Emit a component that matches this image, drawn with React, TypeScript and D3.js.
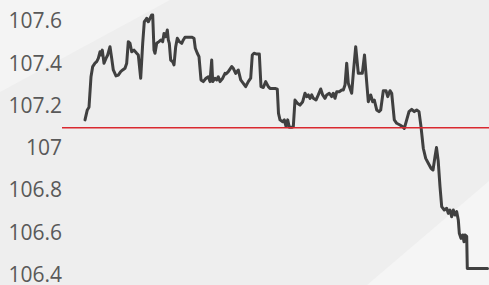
import React from "react";
import * as d3 from "d3";

// time index (minutes from session start) and price
const times: number[] = [
  0, 2.3, 4, 6, 7.7, 10, 11.7, 13.3, 15, 16, 17.3, 19, 21, 22.7, 25, 26.7, 28.3, 31, 33.3, 35.7,
  37.7, 40, 41.7, 43.3, 45, 46.7, 49, 51.7, 53.3, 55.7, 57.7, 59.3, 60.7, 61.7, 63.3, 65, 66.7, 67.7, 69, 70,
  71.7, 74, 76, 77.7, 79, 80.7, 82.3, 83.3, 84.3, 85.7, 87.7, 89, 90.7, 92.3, 94.3, 96.7, 98.3, 100, 106.7, 109,
  110.3, 112.3, 114, 116, 118.3, 121, 123.3, 125, 126.7, 127.7, 130, 131.7, 133.3, 135, 137.7, 140, 141, 143.3, 146.7, 148.3,
  150.7, 153.3, 155.7, 158.3, 160.7, 163.3, 165.7, 167.3, 169, 171, 174.3, 176, 178.3, 180.7, 183.3, 185, 190, 192.3, 193.5, 195,
  197.7, 199.3, 201, 202.7, 204.3, 206.7, 208.3, 210, 212.3, 215, 217.7, 220, 221.7, 223.3, 225, 226.7, 228.3, 231, 233.3, 235.7,
  237.7, 240, 241.7, 244.3, 246.7, 248.3, 250, 251.7, 254.3, 256.7, 258.3, 260, 261.7, 263.3, 265, 266.7, 268.3, 270.7,
  273.3, 277.3, 279.5, 281.5, 283.3, 285.7, 287.7, 289.3, 291.7, 294, 295.7, 298.3, 301, 302.7, 305, 306.7, 309.3, 311.7, 315, 317.7,
  319.3, 321.7, 324, 326.7, 329.3, 331.7, 334, 336, 338.3, 340.7, 343.3, 346, 348, 350, 351.5, 353.2, 355, 356.7, 359.3, 361.7,
  363.3, 365, 366.7, 368.3, 370, 371.7, 373.3, 374.3, 376, 377.7, 379, 380, 381.7, 382.3, 402.5,
];

const prices: number[] = [
  107.131, 107.178, 107.191, 107.335, 107.383, 107.399, 107.406, 107.422, 107.453, 107.438, 107.461, 107.399, 107.422, 107.438, 107.477, 107.422, 107.367, 107.339, 107.343, 107.359,
  107.367, 107.375, 107.399, 107.501, 107.493, 107.453, 107.461, 107.446, 107.438, 107.328, 107.493, 107.595, 107.603, 107.611, 107.595, 107.611, 107.627, 107.627, 107.461, 107.446,
  107.493, 107.501, 107.509, 107.501, 107.540, 107.524, 107.556, 107.509, 107.493, 107.414, 107.406, 107.391, 107.477, 107.517, 107.501, 107.493, 107.509, 107.522, 107.522, 107.517,
  107.470, 107.446, 107.430, 107.320, 107.312, 107.328, 107.335, 107.312, 107.414, 107.312, 107.328, 107.320, 107.335, 107.312, 107.328, 107.351, 107.348, 107.359, 107.383, 107.375,
  107.351, 107.367, 107.320, 107.304, 107.288, 107.312, 107.328, 107.438, 107.446, 107.443, 107.443, 107.288, 107.284, 107.312, 107.288, 107.280, 107.280, 107.276, 107.162, 107.131,
  107.122, 107.131, 107.100, 107.131, 107.096, 107.096, 107.099, 107.225, 107.210, 107.201, 107.217, 107.257, 107.241, 107.249, 107.233, 107.249, 107.233, 107.225, 107.249, 107.277,
  107.249, 107.233, 107.249, 107.257, 107.241, 107.257, 107.233, 107.264, 107.264, 107.272, 107.272, 107.296, 107.399, 107.304, 107.280, 107.257, 107.351, 107.477, 107.351, 107.351,
  107.438, 107.320, 107.217, 107.249, 107.217, 107.225, 107.178, 107.170, 107.178, 107.269, 107.269, 107.241, 107.269, 107.257, 107.131, 107.115, 107.107, 107.099, 107.091, 107.131,
  107.170, 107.181, 107.170, 107.178, 107.170, 107.099, 106.997, 106.949, 106.926, 106.902, 106.894, 106.957, 107.000, 106.937, 106.815, 106.721, 106.705, 106.713, 106.689, 106.705,
  106.673, 106.705, 106.681, 106.697, 106.658, 106.595, 106.571, 106.587, 106.555, 106.587, 106.580, 106.428, 106.428,
];

const yTicks: number[] = [106.4, 106.6, 106.8, 107, 107.2, 107.4, 107.6];
const referenceLevel = 107.094;

const W = 489;
const H = 285;

export default function App() {
  const n = Math.min(times.length, prices.length);
  const pts = d3.range(n).map((i) => ({ t: times[i], v: prices[i] }));

  const x = d3.scaleLinear().domain([0, 402.5]).range([85, 487.5]);
  const y = d3.scaleLinear().domain([106.4, 107.6]).range([274.5, 20.7]);

  const line = d3
    .line<{ t: number; v: number }>()
    .x((d) => x(d.t))
    .y((d) => y(d.v));

  return (
    <svg
      width={W}
      height={H}
      style={{ position: "fixed", left: 0, top: 0, display: "block" }}
    >
      <rect x={0} y={0} width={W} height={H} fill="#eeeeee" />
      <polygon points={`0,0 170,0 0,92`} fill="#f4f4f4" />
      <polygon points={`367,${H} ${W},181 ${W},${H}`} fill="#f5f5f5" />
      {yTicks.map((t) => (
        <text
          key={t}
          x={62}
          y={y(t)}
          dy="0.36em"
          textAnchor="end"
          fontFamily="'Open Sans', sans-serif"
          fontSize={21}
          fill="#595959"
        >
          {d3.format("~g")(t)}
        </text>
      ))}
      <path
        d={line(pts) || ""}
        fill="none"
        stroke="#404040"
        strokeWidth={3}
        strokeLinejoin="round"
        strokeLinecap="round"
      />
      <line
        x1={62}
        x2={W}
        y1={y(referenceLevel)}
        y2={y(referenceLevel)}
        stroke="#d9282f"
        strokeWidth={1.5}
      />
    </svg>
  );
}
